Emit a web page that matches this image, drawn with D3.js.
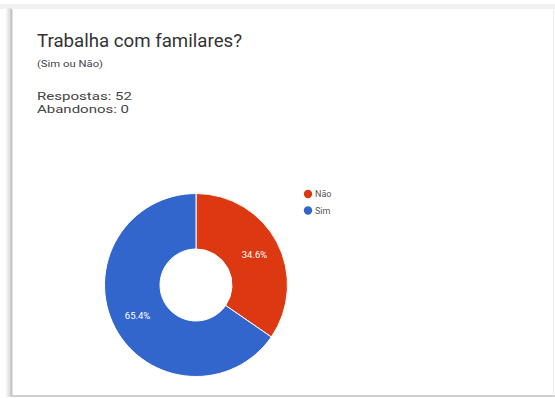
<!DOCTYPE html>
<html>
<head>
<meta charset="utf-8">
<script src="https://cdn.jsdelivr.net/npm/d3@7"></script>
<style>
  html, body { margin: 0; padding: 0; background: #ffffff; }
  svg { display: block; }
</style>
</head>
<body>
<svg id="chart" width="555" height="398"></svg>
<script>
// Survey answers: "Trabalha com familares?"
const categories = ["Não", "Sim"];
const counts = [18, 34];
const colors = ["#dc3912", "#3366cc"];
const title = "Trabalha com familares?";
const subtitle = "(Sim ou Não)";
const totalAnswers = 52;
const abandoned = 0;

const svg = d3.select("#chart");
const W = 555, H = 398;

// card frame with a soft shadow on the left / bottom
const defs = svg.append("defs");
const shadow = defs.append("linearGradient").attr("id", "leftShade")
  .attr("x1", "0").attr("x2", "1").attr("y1", "0").attr("y2", "0");
shadow.append("stop").attr("offset", "0").attr("stop-color", "#ffffff");
shadow.append("stop").attr("offset", "1").attr("stop-color", "#d6d6d6");

svg.append("rect").attr("x", 0).attr("y", 4).attr("width", W).attr("height", 5).attr("fill", "#f0f0f0");
svg.append("rect").attr("x", 5).attr("y", 8).attr("width", 6).attr("height", 389).attr("fill", "url(#leftShade)");
svg.append("rect").attr("x", 11).attr("y", 9).attr("width", 542).attr("height", 386).attr("fill", "#ffffff");
svg.append("line").attr("x1", 11.5).attr("x2", 11.5).attr("y1", 9).attr("y2", 396)
  .attr("stroke", "#c4c4c4").attr("stroke-width", 2);
svg.append("line").attr("x1", 11).attr("x2", W).attr("y1", 396).attr("y2", 396)
  .attr("stroke", "#cfcfcf").attr("stroke-width", 2);
svg.append("line").attr("x1", 553.5).attr("x2", 553.5).attr("y1", 9).attr("y2", 396)
  .attr("stroke", "#ececec").attr("stroke-width", 1);

// header texts
const font = "Roboto, 'Noto Sans', Arial, sans-serif";
svg.append("text").attr("x", 37).attr("y", 46.5)
  .attr("font-family", font).attr("font-size", 18).attr("fill", "#333333")
  .attr("textLength", 205).attr("lengthAdjust", "spacingAndGlyphs")
  .text(title);
svg.append("text").attr("x", 37).attr("y", 66.5)
  .attr("font-family", font).attr("font-size", 9.5).attr("fill", "#444444")
  .attr("textLength", 66).attr("lengthAdjust", "spacingAndGlyphs")
  .text(subtitle);

// response counts: two tightly spaced lines
svg.append("text").attr("x", 37).attr("y", 100)
  .attr("font-family", font).attr("font-size", 11.5).attr("fill", "#444444")
  .attr("textLength", 95).attr("lengthAdjust", "spacingAndGlyphs")
  .text("Respostas: " + totalAnswers);
svg.append("text").attr("x", 37).attr("y", 113)
  .attr("font-family", font).attr("font-size", 11.5).attr("fill", "#444444")
  .attr("textLength", 92).attr("lengthAdjust", "spacingAndGlyphs")
  .text("Abandonos: " + abandoned);

// donut
const cx = 196, cy = 285, rOuter = 91.5, rInner = 36;
const total = d3.sum(counts);
const pie = d3.pie().sort(null).value(d => d.value);
const data = categories.map((c, i) => ({ name: c, value: counts[i], color: colors[i] }));
const arcs = pie(data);
const arc = d3.arc().innerRadius(rInner).outerRadius(rOuter);
const labelArc = d3.arc().innerRadius(66).outerRadius(66);

const g = svg.append("g").attr("transform", `translate(${cx},${cy})`);
g.selectAll("path.slice").data(arcs).join("path")
  .attr("class", "slice")
  .attr("d", arc)
  .attr("fill", d => d.data.color)
  .attr("stroke", "#ffffff").attr("stroke-width", 1);

const pct = d3.format(".1%");
g.selectAll("text.pct").data(arcs).join("text")
  .attr("class", "pct")
  .attr("transform", d => `translate(${labelArc.centroid(d)})`)
  .attr("text-anchor", "middle").attr("dy", "0.35em")
  .attr("font-family", font).attr("font-size", 9.5).attr("fill", "#ffffff")
  .text(d => pct(d.data.value / total));

// legend
const legend = svg.append("g").attr("transform", "translate(308,194)");
const items = legend.selectAll("g").data(data).join("g")
  .attr("transform", (d, i) => `translate(0,${i * 16.5})`);
items.append("circle").attr("r", 4.2).attr("fill", d => d.color);
items.append("text").attr("x", 7).attr("dy", "0.35em")
  .attr("font-family", font).attr("font-size", 9).attr("fill", "#555555")
  .text(d => d.name);
</script>
</body>
</html>
